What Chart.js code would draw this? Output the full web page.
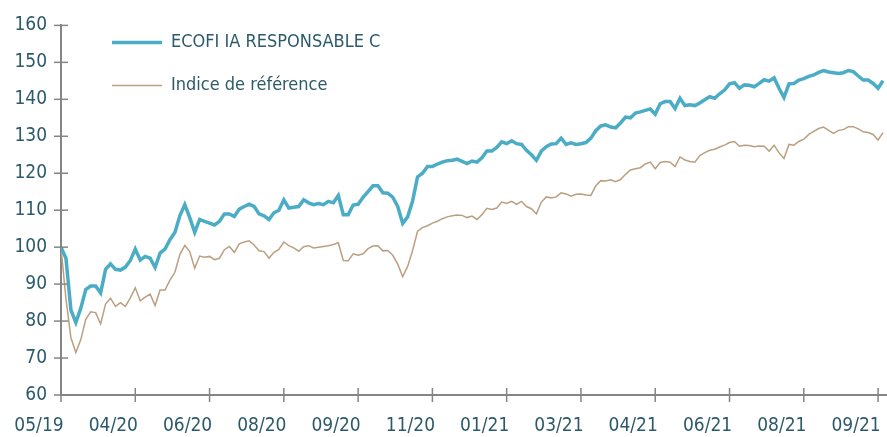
<!DOCTYPE html>
<html>
<head>
<meta charset="utf-8">
<script src="https://cdn.jsdelivr.net/npm/chart.js@4"></script>
<style>
  html, body { margin: 0; padding: 0; background: #ffffff; }
  #wrap { width: 887px; height: 437px; }
</style>
</head>
<body>
<div id="wrap"><canvas id="perfChart" width="887" height="437"></canvas></div>
<script>
// tick labels and where they sit (point index)
const dateLabels = ["05/19", "04/20", "06/20", "08/20", "09/20", "11/20", "01/21", "03/21", "04/21", "06/21", "08/21", "09/21"];
const tickIdx = [0, 15, 30, 45, 60, 75, 90, 105, 120, 135, 150, 165];

// fund, base 100
const fund = [
  100, 97, 83, 79.6, 83.5, 88.5, 89.5, 89.5, 87.6, 94, 95.5, 94, 93.8, 94.6, 96.4,
  99.5, 96.5, 97.5, 97, 94.5, 98.4, 99.5, 102, 104, 108.5, 111.5, 108, 104, 107.5, 107,
  106.5, 106, 107, 109, 109, 108.3, 110.3, 111, 111.6, 111, 109, 108.5, 107.5, 109.3, 110,
  112.8, 110.6, 110.8, 111, 112.8, 112, 111.5, 111.8, 111.5, 112.4, 112, 114, 108.8, 108.8, 111.4,
  111.6, 113.5, 115, 116.6, 116.6, 114.7, 114.6, 113.5, 111, 106.4, 108.2, 112.5, 119, 120, 121.8,
  121.8, 122.5, 123, 123.4, 123.5, 123.8, 123.2, 122.6, 123.3, 123, 124.2, 126, 126, 127, 128.5,
  128, 128.8, 128, 127.8, 126.2, 125, 123.5, 126, 127.2, 127.9, 128, 129.5, 127.8, 128.2, 127.8,
  128, 128.3, 129.5, 131.5, 132.8, 133.1, 132.5, 132.3, 133.6, 135.2, 135, 136.3, 136.6, 137, 137.4,
  136, 138.8, 139.4, 139.4, 137.5, 140.3, 138.3, 138.5, 138.3, 139, 139.9, 140.7, 140.3, 141.5, 142.5,
  144.2, 144.5, 143, 143.9, 143.8, 143.4, 144.3, 145.3, 144.9, 145.8, 143, 140.5, 144.2, 144.3, 145.2,
  145.6, 146.2, 146.6, 147.3, 147.8, 147.4, 147.2, 147, 147.2, 147.8, 147.5, 146.3, 145.2, 145.2, 144.3,
  143, 145
];

// benchmark, base 100
const benchmark = [
  100, 86, 75.5, 71.5, 75, 80.5, 82.5, 82.3, 79.2, 84.6, 86.2, 84, 85, 84, 86.3,
  89, 85.5, 86.5, 87.3, 84.2, 88.4, 88.4, 91.1, 93.2, 98, 100.5, 98.8, 94.3, 97.6, 97.3,
  97.5, 96.6, 97, 99.3, 100.2, 98.6, 100.9, 101.4, 101.7, 100.6, 99, 98.8, 97, 98.6, 99.4,
  101.4, 100.4, 99.8, 98.9, 100.1, 100.4, 99.8, 100, 100.2, 100.4, 100.7, 101.2, 96.4, 96.3, 98.2,
  97.8, 98.2, 99.6, 100.3, 100.4, 99, 99.1, 97.8, 95.4, 92, 94.8, 99.1, 104.3, 105.3, 105.8,
  106.5, 107, 107.7, 108.2, 108.5, 108.7, 108.6, 108, 108.4, 107.5, 108.8, 110.5, 110.2, 110.6, 112.2,
  111.8, 112.4, 111.6, 112.4, 111, 110.4, 109, 112.2, 113.6, 113.3, 113.6, 114.7, 114.4, 113.8, 114.3,
  114.4, 114.1, 114, 116.6, 118, 117.9, 118.2, 117.7, 118.3, 119.7, 120.9, 121.2, 121.5, 122.5, 123,
  121.2, 122.9, 123.2, 123, 121.8, 124.4, 123.6, 123.2, 123, 124.8, 125.6, 126.2, 126.5, 127.1, 127.6,
  128.3, 128.6, 127.3, 127.6, 127.5, 127.2, 127.4, 127.3, 126, 127.6, 125.5, 124, 127.8, 127.6, 128.6,
  129.2, 130.5, 131.3, 132.1, 132.5, 131.6, 130.8, 131.6, 131.8, 132.6, 132.6, 132, 131.2, 131, 130.5,
  129, 131
];

const textColor = "#2d5a6b";
const axisColor = "#858585";
const fontFamily = "'Liberation Sans Narrow', 'Arial Narrow', 'DejaVu Sans Condensed', sans-serif";

const toPoints = (arr) => arr.map((v, i) => ({ x: i, y: v }));

// little crossing ticks like the original axes
const crossTicks = {
  id: "crossTicks",
  afterDraw(chart) {
    const ctx = chart.ctx;
    const area = chart.chartArea;
    const xs = chart.scales.x;
    const ys = chart.scales.y;
    ctx.save();
    ctx.strokeStyle = axisColor;
    ctx.lineWidth = 1.5;
    ys.ticks.forEach((t) => {
      const y = ys.getPixelForValue(t.value);
      ctx.beginPath();
      ctx.moveTo(area.left - 7, y);
      ctx.lineTo(area.left + 7, y);
      ctx.stroke();
    });
    xs.ticks.forEach((t) => {
      const x = xs.getPixelForValue(t.value);
      ctx.beginPath();
      ctx.moveTo(x, area.bottom - 7);
      ctx.lineTo(x, area.bottom + 7);
      ctx.stroke();
    });
    ctx.restore();
  },
};

// legend sits inside the plot, top left
const legendSpot = {
  id: "legendSpot",
  afterLayout(chart) {
    if (chart.legend) {
      chart.legend.left = 87;
      chart.legend.top = 8.5;
    }
  },
};

new Chart(document.querySelector("#perfChart").getContext("2d"), {
  type: "line",
  data: {
    datasets: [
      {
        label: "ECOFI IA RESPONSABLE C",
        data: toPoints(fund),
        borderColor: "#4bacc6",
        backgroundColor: "#4bacc6",
        borderWidth: 3.5,
        pointRadius: 0,
        tension: 0,
      },
      {
        label: "Indice de référence",
        data: toPoints(benchmark),
        borderColor: "#bb9f80",
        backgroundColor: "#bb9f80",
        borderWidth: 1.5,
        pointRadius: 0,
        tension: 0,
      },
    ],
  },
  options: {
    responsive: false,
    animation: false,
    layout: { padding: { top: 19, right: 1, left: 0, bottom: 0 } },
    plugins: {
      tooltip: { enabled: false },
      legend: {
        position: "chartArea",
        align: "start",
        labels: {
          usePointStyle: true,
          pointStyle: "line",
          pointStyleWidth: 50,
          padding: 25,
          color: textColor,
          font: { family: fontFamily, size: 18 },
        },
      },
    },
    scales: {
      x: {
        type: "linear",
        min: 0,
        max: 166.6,
        grid: { display: false, drawTicks: false },
        border: { display: true, color: axisColor, width: 2 },
        afterBuildTicks: (scale) => {
          scale.ticks = tickIdx.map((v) => ({ value: v }));
        },
        afterFit: (scale) => {
          scale.height = 42;
          scale.paddingLeft = 0;
          scale.paddingRight = 0;
        },
        ticks: {
          autoSkip: false,
          maxRotation: 0,
          padding: 20,
          labelOffset: -22,
          color: textColor,
          font: { family: fontFamily, size: 19 },
          callback: (v) => {
            const k = tickIdx.indexOf(v);
            return k >= 0 ? dateLabels[k] : "";
          },
        },
      },
      y: {
        min: 60,
        max: 160,
        grid: { display: false, drawTicks: false },
        border: { display: true, color: axisColor, width: 2 },
        afterFit: (scale) => {
          scale.width = 61;
        },
        ticks: {
          stepSize: 10,
          padding: 14,
          color: textColor,
          font: { family: fontFamily, size: 19 },
        },
      },
    },
  },
  plugins: [crossTicks, legendSpot],
});
</script>
</body>
</html>
